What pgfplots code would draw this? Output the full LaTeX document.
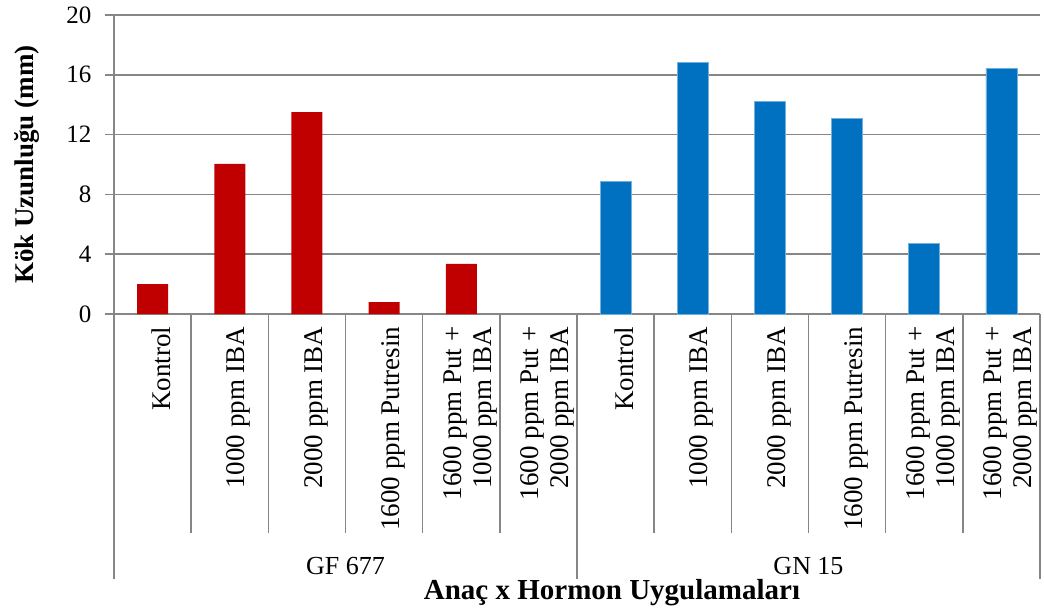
\documentclass[border=0pt]{standalone}
\usepackage{fontspec}
\setmainfont{Liberation Serif}
\usepackage{pgfplots}
\pgfplotsset{compat=1.18}
\definecolor{gfred}{HTML}{C00000}
\definecolor{gnblue}{HTML}{0070C0}
\definecolor{gridgray}{HTML}{868686}

\begin{document}
\begin{tikzpicture}
\begin{axis}[
    name=ax,
    at={(0,0)}, anchor=south west,
    scale only axis,
    width=926pt, height=299pt,
    xmin=-0.5, xmax=11.5,
    ymin=0, ymax=20,
    ytick={0,4,...,20},
    xtick={0,...,11},
    xticklabels={Kontrol, 1000 ppm IBA, 2000 ppm IBA, 1600 ppm Putresin,
        {1600 ppm Put +\\1000 ppm IBA}, {1600 ppm Put +\\2000 ppm IBA},
        Kontrol, 1000 ppm IBA, 2000 ppm IBA, 1600 ppm Putresin,
        {1600 ppm Put +\\1000 ppm IBA}, {1600 ppm Put +\\2000 ppm IBA}},
    x tick style={draw=none},
    axis x line*=bottom, axis y line*=left,
    axis line style={gridgray, line width=1.5pt},
    ymajorgrids,
    grid style={gridgray, line width=1.5pt},
    y tick style={gridgray, line width=1.5pt},
    ytick pos=left,
    tick align=outside,
    major tick length=9pt,
    /pgf/number format/assume math mode=true,
    yticklabel style={font=\fontsize{25pt}{28pt}\selectfont, xshift=-10pt},
    xticklabel style={rotate=90, anchor=east, align=right,
        font=\fontsize{27pt}{30pt}\selectfont, yshift=-9pt},
    ylabel={\textbf{Kök Uzunluğu (mm)}},
    ylabel style={font=\fontsize{27pt}{30pt}\selectfont,
        at={(axis description cs:-0.094,0.5)}, anchor=center},
    xlabel={\textbf{Anaç x Hormon Uygulamaları}},
    xlabel style={font=\fontsize{29pt}{32pt}\selectfont,
        at={(axis description cs:0.5,0)}, anchor=center, xshift=35pt, yshift=-279pt},
    clip=false,
]
\addplot[ybar, bar width=31pt, bar shift=0pt, fill=gfred, draw=none]
    coordinates {(0,2.0) (1,10.05) (2,13.5) (3,0.8) (4,3.35)};
\addplot[ybar, bar width=31pt, bar shift=0pt, fill=gnblue, draw=gnblue!55!white, line width=0.8pt]
    coordinates {(6,8.85) (7,16.85) (8,14.2) (9,13.1) (10,4.7) (11,16.45)};

% category separators
\pgfplotsinvokeforeach{0.5,1.5,2.5,3.5,4.5,6.5,7.5,8.5,9.5,10.5}{
    \draw[gridgray, line width=1.5pt] (axis cs:#1,0) -- ++(0pt,-219pt);
}
% group separators
\pgfplotsinvokeforeach{-0.5,5.5,11.5}{
    \draw[gridgray, line width=1.5pt] (axis cs:#1,0) -- ++(0pt,-265pt);
}
\node[font=\fontsize{26pt}{30pt}\selectfont] at (axis cs:2.5,0) [yshift=-252pt] {GF 677};
\node[font=\fontsize{26pt}{30pt}\selectfont] at (axis cs:8.5,0) [yshift=-252pt] {GN 15};
\end{axis}
\path[use as bounding box] ([shift={(-114pt,-297pt)}]ax.south west)
    rectangle ([shift={(4pt,15pt)}]ax.north east);
\end{tikzpicture}
\end{document}
